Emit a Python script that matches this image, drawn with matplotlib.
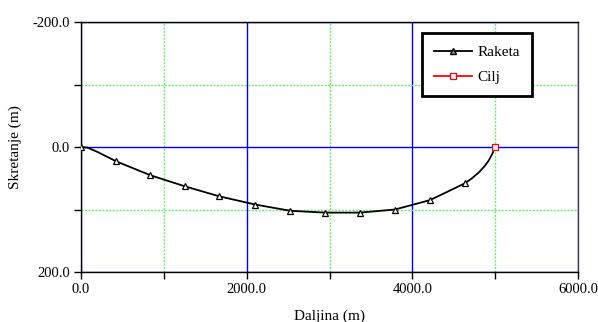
import matplotlib
matplotlib.use("Agg")
import matplotlib.pyplot as plt
from matplotlib.ticker import MultipleLocator, FormatStrFormatter

# Rocket trajectory (curve points)
raketa_x = [0, 80, 200, 426, 833, 1256, 1672, 2101, 2523, 2946, 3368, 3791, 4213, 4636,
            4720, 4800, 4870, 4925, 4965, 5000]
raketa_y = [0, 1, 8, 23, 45, 63, 79, 92, 102, 105, 105, 100, 85, 58,
            50, 41, 31, 21, 11, 0]
# marker positions (every n-th point)
mark_x = [0, 426, 833, 1256, 1672, 2101, 2523, 2946, 3368, 3791, 4213, 4636]
mark_y = [0, 23, 45, 63, 79, 92, 102, 105, 105, 100, 85, 58]
# Target
cilj_x = [5000]
cilj_y = [0]

x_major = [0, 2000, 4000, 6000]
y_major = [-200, 0, 200]

plt.rcParams['font.family'] = ['Liberation Serif', 'DejaVu Serif']

fig = plt.figure(figsize=(5.98, 3.22), dpi=100)
ax = fig.add_axes([81/598, 1-272/322, 497/598, 250/322])

ax.plot(raketa_x, raketa_y, color='black', lw=1.3, zorder=4)
ax.plot(mark_x, mark_y, ls='none', marker='^', ms=5, mfc='white', mec='black', mew=0.9, zorder=5)
ax.plot([], [], color='black', lw=1.3, marker='^', ms=5, mfc='#888888', mec='black', label='Raketa')
ax.plot(cilj_x, cilj_y, color='red', lw=1.3, marker='s', ms=5, mfc='white', mec='red', mew=0.9,
        label='Cilj', zorder=6)

ax.set_xlim(0, 6000)
ax.set_ylim(200, -200)
ax.set_xticks(x_major)
ax.set_yticks(y_major)
ax.xaxis.set_minor_locator(MultipleLocator(1000))
ax.yaxis.set_minor_locator(MultipleLocator(100))
ax.xaxis.set_major_formatter(FormatStrFormatter('%.1f'))
ax.yaxis.set_major_formatter(FormatStrFormatter('%.1f'))

ax.grid(which='major', color='#0000ff', lw=1.0, ls='-', zorder=1)
ax.grid(which='minor', color='#66ee66', lw=1.0, ls=(0, (1.5, 1)), zorder=1)
ax.set_axisbelow(True)

ax.tick_params(which='both', direction='out', length=5, width=1, color='black',
               labelsize=10.5, pad=3)
for s in ax.spines.values():
    s.set_color('black')
    s.set_linewidth(1.0)
ax.spines['right'].set_color('#444444')

ax.set_xlabel('Daljina (m)', fontsize=11)
ax.xaxis.set_label_coords(0.5, (272 - 310) / 250)
ax.xaxis.label.set_va('top')
ax.set_ylabel('Skretanje (m)', fontsize=11)
ax.yaxis.set_label_coords(-0.133, 0.5)
ax.yaxis.label.set_va('center')

leg = ax.legend(loc='upper right', bbox_to_anchor=(0.907, 0.956), fontsize=11,
                frameon=True, fancybox=False, framealpha=1, edgecolor='black',
                handlelength=2.5, handletextpad=0.3, borderpad=0.8, labelspacing=0.75,
                borderaxespad=0)
leg.get_frame().set_linewidth(2)

fig.savefig('out.png', dpi=100)
